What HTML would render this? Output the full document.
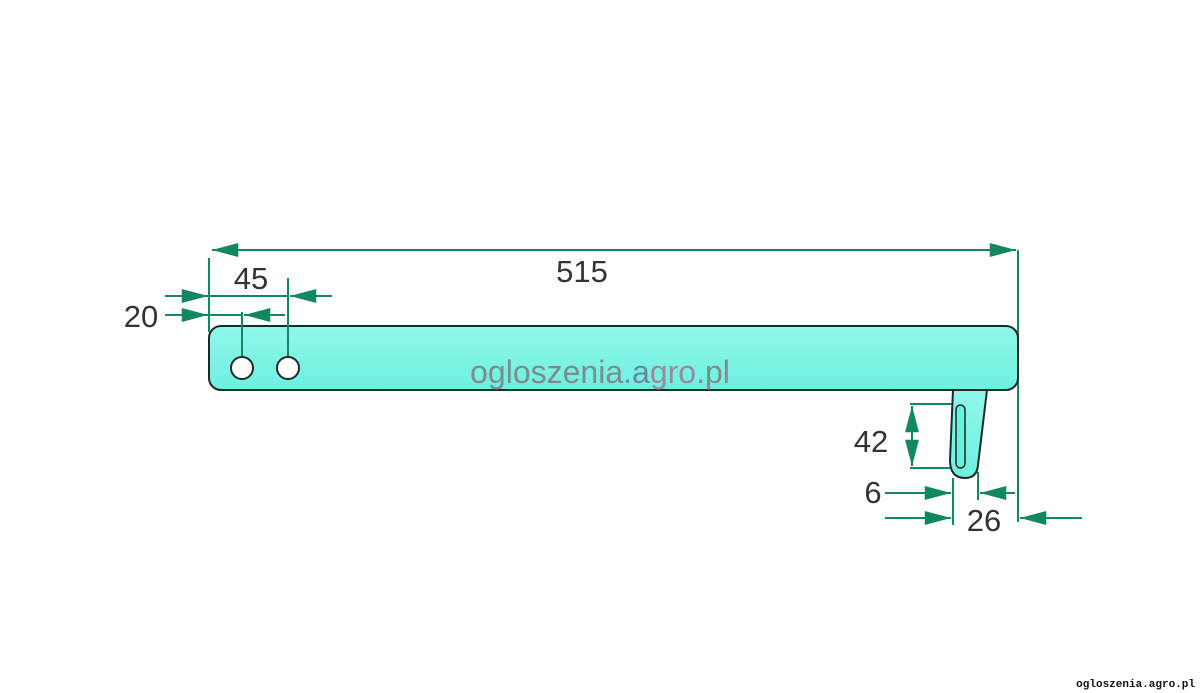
<!DOCTYPE html>
<html><head><style>
body{margin:0;background:#fff;width:1200px;height:693px;overflow:hidden;position:relative;font-family:"Liberation Sans",sans-serif}
</style></head><body>
<svg width="1200" height="693" style="position:absolute;left:0;top:0">
<defs>
<marker id="b" viewBox="0 0 30 16" refX="30" refY="8" markerWidth="30" markerHeight="14" markerUnits="userSpaceOnUse" orient="auto-start-reverse"><path d="M0,0L30,8L0,16z" fill="#13875f"/></marker>
<linearGradient id="g" x1="0" y1="0" x2="0" y2="1"><stop offset="0" stop-color="#8ff7ea"/><stop offset="1" stop-color="#6ef0df"/></linearGradient>
</defs>
<g stroke="#13875f" stroke-width="2" fill="none">
<line x1="209" y1="258" x2="209" y2="332"/>
<line x1="1018" y1="250" x2="1018" y2="522"/>
<line x1="212" y1="250" x2="1016" y2="250" marker-start="url(#b)" marker-end="url(#b)"/>
<line x1="165" y1="296" x2="208" y2="296" marker-end="url(#b)"/>
<line x1="208" y1="296" x2="288" y2="296"/>
<line x1="332" y1="296" x2="290" y2="296" marker-end="url(#b)"/>
<line x1="165" y1="315" x2="208" y2="315" marker-end="url(#b)"/>
<line x1="208" y1="315" x2="242" y2="315"/>
<line x1="285" y1="315" x2="244" y2="315" marker-end="url(#b)"/>
<line x1="910" y1="404" x2="952" y2="404"/>
<line x1="910" y1="468" x2="952" y2="468"/>
<line x1="912" y1="406" x2="912" y2="466" marker-start="url(#b)" marker-end="url(#b)"/>
<line x1="953" y1="478" x2="953" y2="525"/>
<line x1="978" y1="472" x2="978" y2="500"/>
<line x1="885" y1="493" x2="951" y2="493" marker-end="url(#b)"/>
<line x1="1015" y1="493" x2="980" y2="493" marker-end="url(#b)"/>
<line x1="885" y1="518" x2="951" y2="518" marker-end="url(#b)"/>
<line x1="1082" y1="518" x2="1020" y2="518" marker-end="url(#b)"/>
</g>
<path d="M953,390 L950,460 Q950,478 965,478 Q977,478 978,465 L987,390 Z" fill="url(#g)" stroke="#1b2b25" stroke-width="2"/>
<rect x="956" y="405" width="9" height="63" rx="4.5" fill="#6ef0df" stroke="#1b2b25" stroke-width="1.5"/>
<rect x="209" y="326" width="809" height="64" rx="12" fill="url(#g)" stroke="#1b2b25" stroke-width="2"/>
<g stroke="#13875f" stroke-width="2">
<line x1="242" y1="312" x2="242" y2="357"/>
<line x1="288" y1="278" x2="288" y2="357"/>
</g>
<circle cx="242" cy="368" r="11" fill="#fff" stroke="#1b2b25" stroke-width="2"/>
<circle cx="288" cy="368" r="11" fill="#fff" stroke="#1b2b25" stroke-width="2"/>
<g font-size="31" fill="#333" font-family="Liberation Sans,sans-serif">
<text x="582" y="282" text-anchor="middle">515</text>
<text x="251" y="289" text-anchor="middle">45</text>
<text x="141" y="327" text-anchor="middle">20</text>
<text x="871" y="452" text-anchor="middle">42</text>
<text x="873" y="503" text-anchor="middle">6</text>
<text x="984" y="531" text-anchor="middle">26</text>
</g>
<text x="600" y="383" text-anchor="middle" font-size="32" fill="#7d8c8c">ogloszenia.<tspan fill="#6f84a0">a</tspan><tspan fill="#9a8aa0">gro</tspan>.pl</text>
<text x="1195" y="687" text-anchor="end" font-size="11" font-weight="bold" font-family="Liberation Mono,monospace" fill="#111">ogloszenia.agro.pl</text>
</svg>
</body></html>
